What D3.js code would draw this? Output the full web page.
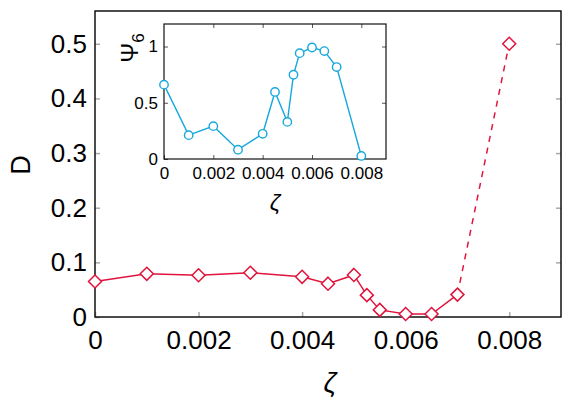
<!DOCTYPE html>
<html>
<head>
<meta charset="utf-8">
<script src="https://cdn.jsdelivr.net/npm/d3@7"></script>
<style>
  body { margin: 0; background: #fff; }
  text { font-family: "Liberation Sans", Arial, sans-serif; fill: #000; }
</style>
</head>
<body>
<svg id="chart" width="581" height="407"></svg>
<script>
// main curve: D vs zeta
var zeta = [0, 0.001, 0.002, 0.003, 0.004, 0.0045, 0.005, 0.00525, 0.0055, 0.006, 0.0065, 0.007, 0.008];
var D = [0.065, 0.079, 0.0765, 0.081, 0.0735, 0.061, 0.077, 0.040, 0.013, 0.0055, 0.0055, 0.041, 0.5];
// inset: Psi6 vs zeta
var zetaIn = [0, 0.001, 0.002, 0.003, 0.004, 0.0045, 0.005, 0.00525, 0.0055, 0.006, 0.0065, 0.007, 0.008];
var psi6 = [0.661, 0.212, 0.292, 0.083, 0.224, 0.596, 0.330, 0.749, 0.941, 0.991, 0.959, 0.817, 0.027];

var xTicks = [0, 0.002, 0.004, 0.006, 0.008];
var yTicks = [0, 0.1, 0.2, 0.3, 0.4, 0.5];
var yTicksIn = [0, 0.5, 1];

var red = "#e0143c", blue = "#17a8dc";
var svg = d3.select("#chart");

//Main plot
var x = d3.scaleLinear().domain([0, 0.009]).range([95, 561]);
var y = d3.scaleLinear().domain([0, 0.56]).range([317, 11]);

function fmt(d) { return d === 0 ? "0" : d3.format("")(+d.toFixed(3)); }

svg.append("g").attr("transform", "translate(0,317)")
  .call(d3.axisBottom(x).tickValues(xTicks).tickSize(-5).tickPadding(14).tickFormat(fmt))
  .call(function(g) {
    g.select(".domain").remove();
    g.selectAll("line").attr("stroke", "#aaa").attr("stroke-width", 1.5);
    g.selectAll("text").attr("font-size", 26).attr("font-family", "Liberation Sans, Arial, sans-serif");
  });
svg.append("g").attr("transform", "translate(95,0)")
  .call(d3.axisLeft(y).tickValues(yTicks).tickSize(-5).tickPadding(8).tickFormat(fmt))
  .call(function(g) {
    g.select(".domain").remove();
    g.selectAll("line").attr("stroke", "#aaa").attr("stroke-width", 1.5);
    g.selectAll("text").attr("font-size", 26).attr("font-family", "Liberation Sans, Arial, sans-serif");
  });
svg.append("g").attr("transform", "translate(561,0)")
  .call(d3.axisRight(y).tickValues(yTicks.slice(1)).tickSize(-5).tickFormat(""))
  .call(function(g) {
    g.select(".domain").remove();
    g.selectAll("line").attr("stroke", "#aaa").attr("stroke-width", 1.5);
  });

svg.append("rect").attr("x", 95).attr("y", 11).attr("width", 466).attr("height", 306)
  .attr("fill", "none").attr("stroke", "#111").attr("stroke-width", 1.5);

svg.append("text").attr("transform", "translate(30,165) rotate(-90)")
  .attr("text-anchor", "middle").attr("font-size", 27).text("D");
svg.append("text").attr("x", 330).attr("y", 392)
  .attr("text-anchor", "middle").attr("font-size", 28)
  .attr("font-family", "DejaVu Serif, serif").attr("font-style", "italic").text("ζ");

var pts = zeta.map(function(z, i) { return [z, D[i]]; });
var line = d3.line().x(function(d) { return x(d[0]); }).y(function(d) { return y(d[1]); });
svg.append("path").datum(pts.slice(0, 12)).attr("d", line)
  .attr("fill", "none").attr("stroke", red).attr("stroke-width", 1.5);
svg.append("path").datum(pts.slice(11)).attr("d", line)
  .attr("fill", "none").attr("stroke", red).attr("stroke-width", 1.5).attr("stroke-dasharray", "6,6");

svg.selectAll("path.diamond").data(pts).enter().append("path")
  .attr("class", "diamond")
  .attr("d", "M0,-6.5L6.5,0L0,6.5L-6.5,0Z")
  .attr("transform", function(d) { return "translate(" + x(d[0]) + "," + y(d[1]) + ")"; })
  .attr("fill", "#fff").attr("stroke", red).attr("stroke-width", 1.5);

//Inset
var xi = d3.scaleLinear().domain([0, 0.009]).range([164, 386]);
var yi = d3.scaleLinear().domain([0, 1.2]).range([159, 24]);

svg.append("rect").attr("x", 164).attr("y", 24).attr("width", 222).attr("height", 135)
  .attr("fill", "#fff").attr("stroke", "none");

function insetTicks(g) {
  g.select(".domain").remove();
  g.selectAll("line").attr("stroke", "#555").attr("stroke-width", 1);
  g.selectAll("text").attr("font-size", 17).attr("font-family", "Liberation Sans, Arial, sans-serif");
}
svg.append("g").attr("transform", "translate(0,159)")
  .call(d3.axisBottom(xi).tickValues(xTicks).tickSize(-4).tickPadding(8).tickFormat(fmt)).call(insetTicks);
svg.append("g").attr("transform", "translate(0,24)")
  .call(d3.axisTop(xi).tickValues(xTicks.slice(1)).tickSize(-4).tickFormat("")).call(insetTicks);
svg.append("g").attr("transform", "translate(164,0)")
  .call(d3.axisLeft(yi).tickValues(yTicksIn).tickSize(-4).tickPadding(6).tickFormat(function(d) { return String(d); })).call(insetTicks);
svg.append("g").attr("transform", "translate(386,0)")
  .call(d3.axisRight(yi).tickValues(yTicksIn.slice(1)).tickSize(-4).tickFormat("")).call(insetTicks);

svg.append("rect").attr("x", 164).attr("y", 24).attr("width", 222).attr("height", 135)
  .attr("fill", "none").attr("stroke", "#111").attr("stroke-width", 1.2);

var lab = svg.append("text").attr("transform", "translate(138,48) rotate(-90)")
  .attr("text-anchor", "middle").attr("font-size", 24)
  .attr("font-family", "DejaVu Serif, serif");
lab.append("tspan").text("Ψ");
lab.append("tspan").attr("font-size", 17).attr("dy", 6)
  .attr("font-family", "Liberation Sans, Arial, sans-serif").text("6");

svg.append("text").attr("x", 275).attr("y", 210)
  .attr("text-anchor", "middle").attr("font-size", 23)
  .attr("font-family", "DejaVu Serif, serif").attr("font-style", "italic").text("ζ");

var ptsIn = zetaIn.map(function(z, i) { return [z, psi6[i]]; });
var lineIn = d3.line().x(function(d) { return xi(d[0]); }).y(function(d) { return yi(d[1]); });
svg.append("path").datum(ptsIn).attr("d", lineIn)
  .attr("fill", "none").attr("stroke", blue).attr("stroke-width", 1.4);
svg.selectAll("circle.pt").data(ptsIn).enter().append("circle")
  .attr("class", "pt")
  .attr("cx", function(d) { return xi(d[0]); })
  .attr("cy", function(d) { return yi(d[1]); })
  .attr("r", 4.2)
  .attr("fill", "#fff").attr("stroke", blue).attr("stroke-width", 1.4);
</script>
</body>
</html>
